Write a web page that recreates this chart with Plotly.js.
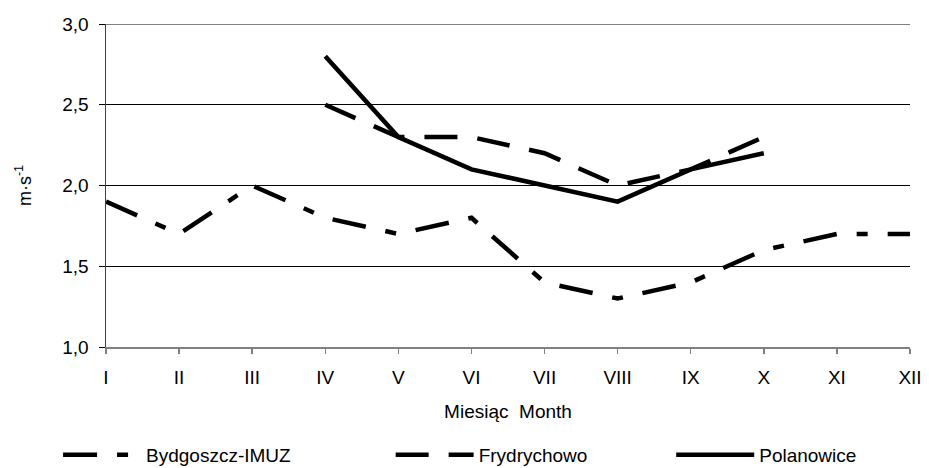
<!DOCTYPE html>
<html>
<head>
<meta charset="utf-8">
<script src="https://cdn.plot.ly/plotly-3.0.1.min.js"></script>
<style>
  html, body { margin: 0; padding: 0; background: #ffffff; }
  #chart { width: 929px; height: 468px; }
</style>
</head>
<body>
<div id="chart"></div>
<script>
// Monthly mean wind speed (m·s-1) at three stations
const months = ["I", "II", "III", "IV", "V", "VI", "VII", "VIII", "IX", "X", "XI", "XII"];
const monthIndex = [0, 1, 2, 3, 4, 5, 6, 7, 8, 9, 10, 11];

const bydgoszcz = [1.9, 1.7, 2.0, 1.8, 1.7, 1.8, 1.4, 1.3, 1.4, 1.6, 1.7, 1.7];
const frydrychowo = [null, null, null, 2.5, 2.3, 2.3, 2.2, 2.0, 2.1, 2.3, null, null];
const polanowice = [null, null, null, 2.8, 2.3, 2.1, 2.0, 1.9, 2.1, 2.2, null, null];

const yTicks = [1.0, 1.5, 2.0, 2.5, 3.0];
const yTickText = ["1,0", "1,5", "2,0", "2,5", "3,0"];

const FONT = "Liberation Sans, Arial, sans-serif";
const FS = 19;
const INK = "#000000";

const traces = [
  {
    name: "Bydgoszcz-IMUZ",
    x: monthIndex, y: bydgoszcz,
    mode: "lines",
    legend: "legend",
    line: { color: INK, width: 4.5, dash: "34px,20px,11px,20px" }
  },
  {
    name: "Frydrychowo",
    x: monthIndex, y: frydrychowo,
    mode: "lines",
    legend: "legend2",
    line: { color: INK, width: 4.5, dash: "33px,20px" }
  },
  {
    name: "Polanowice",
    x: monthIndex, y: polanowice,
    mode: "lines",
    legend: "legend3",
    line: { color: INK, width: 4.5 }
  }
];

// one single-entry legend per station, laid out along the bottom
function legendBox(xPos) {
  return {
    orientation: "h",
    x: xPos, xref: "container", xanchor: "left",
    y: 0.028, yref: "container", yanchor: "middle",
    itemwidth: 78,
    bgcolor: "rgba(0,0,0,0)",
    font: { family: FONT, size: FS, color: INK }
  };
}

const layout = {
  width: 929, height: 468,
  margin: { l: 106, r: 19, t: 24, b: 121 },
  paper_bgcolor: "#ffffff",
  plot_bgcolor: "#ffffff",
  font: { family: FONT, size: FS, color: INK },
  showlegend: true,
  legend: legendBox(0.0625),
  legend2: legendBox(0.4205),
  legend3: legendBox(0.7225),
  xaxis: {
    range: [0, 11],
    tickvals: monthIndex,
    ticktext: months,
    ticks: "outside", ticklen: 5, tickwidth: 1.5, tickcolor: "#808080",
    ticklabelstandoff: 7,
    showline: true, linecolor: "#808080", linewidth: 2,
    showgrid: false, zeroline: false,
    tickfont: { family: FONT, size: FS, color: INK },
    title: { text: "Miesiąc  Month", font: { family: FONT, size: FS, color: INK }, standoff: 18 }
  },
  yaxis: {
    range: [1, 3],
    tickvals: yTicks,
    ticktext: yTickText,
    ticks: "outside", ticklen: 6, tickwidth: 1, tickcolor: INK,
    ticklabelstandoff: 6,
    showline: true, linecolor: "#404040", linewidth: 1.5,
    showgrid: true, gridcolor: INK, gridwidth: 1,
    zeroline: false,
    tickfont: { family: FONT, size: FS, color: INK },
    title: { text: "m·s<sup>-1</sup>", font: { family: FONT, size: 18, color: INK }, standoff: 26 }
  },
  shapes: [
    {
      type: "line", xref: "paper", yref: "y",
      x0: 0, x1: 1, y0: 3, y1: 3,
      line: { color: "#808080", width: 2 },
      layer: "above"
    }
  ]
};

Plotly.newPlot("chart", traces, layout, { displayModeBar: false, staticPlot: true });
</script>
</body>
</html>
